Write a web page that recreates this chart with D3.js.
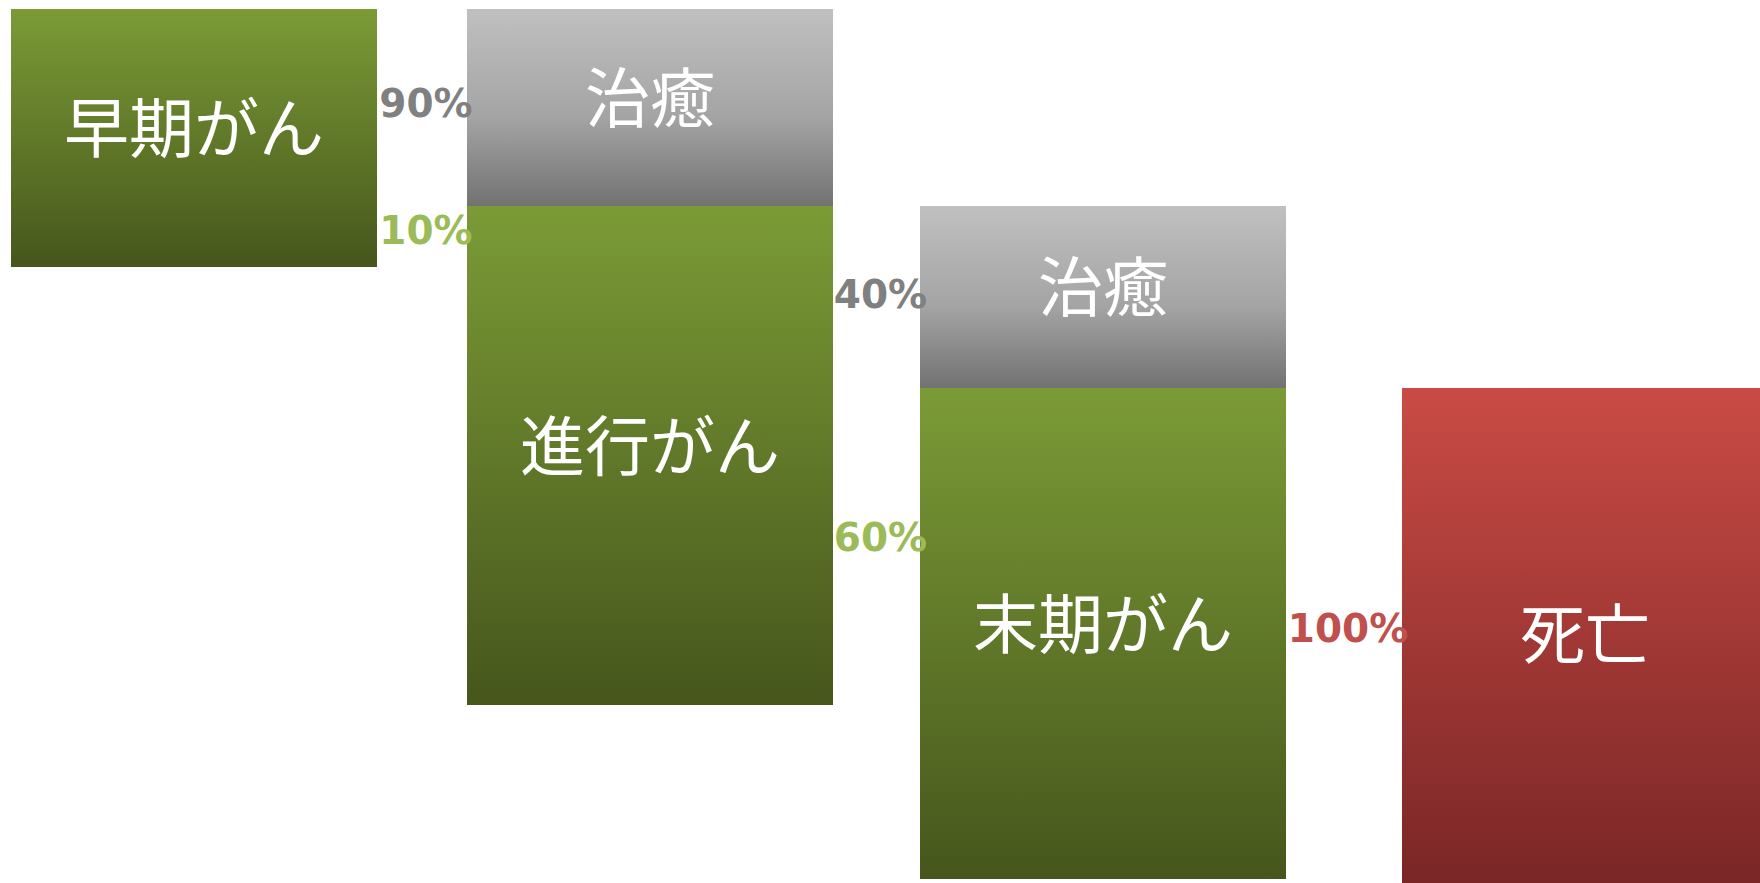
<!DOCTYPE html>
<html>
<head>
<meta charset="utf-8">
<script src="https://cdn.jsdelivr.net/npm/d3@7"></script>
<style>
  body { margin: 0; background: #fff; overflow: hidden; }
</style>
</head>
<body>
<div id="chart"></div>
<script>
// stages of the disease, left to right
const stages = ["早期がん", "進行がん", "末期がん", "死亡"]
const cureLabel = "治癒"
// share that is cured after each stage, and share that moves on to the next one
const cureRates = [90, 40, 0]
const progressRates = [10, 60, 100]

const width = 1760, height = 883
const boxWidth = 366

// layout of the columns
const x = d3.scaleOrdinal()
    .domain(stages)
    .range([11, 467, 920, 1402])

const y = d3.scaleOrdinal()
    .domain(["top", "split1", "bottom0", "split2", "bottom1", "bottom2", "bottom3"])
    .range([9, 206, 267, 388, 705, 879, 900])

const colTop = ["top", "top", "split1", "split2"]
const colSplit = [null, "split1", "split2", null]
const colBottom = ["bottom0", "bottom1", "bottom2", "bottom3"]

// where the percentages sit
const pctY = d3.scaleOrdinal()
    .domain(["cure1", "next1", "cure2", "next2", "cure3", "next3"])
    .range([103, 230, 294, 537, 0, 628])

// build the rectangles
let segments = []
stages.forEach((s, i) => {
    let top = colTop[i]
    if (colSplit[i]) {
        segments.push({ kind: "cure", label: cureLabel, x: x(s), y0: y(top), y1: y(colSplit[i]) })
        top = colSplit[i]
    }
    segments.push({
        kind: i == stages.length - 1 ? "death" : "cancer",
        label: s, x: x(s), y0: y(top), y1: y(colBottom[i])
    })
})

let labels = []
progressRates.forEach((p, i) => {
    let gapMid = (x(stages[i]) + boxWidth + x(stages[i + 1])) / 2 + 4
    if (cureRates[i] > 0) {
        labels.push({ text: cureRates[i] + "%", kind: "cure", x: gapMid, y: pctY("cure" + (i + 1)) })
    }
    labels.push({ text: p + "%", kind: i == progressRates.length - 1 ? "death" : "cancer", x: gapMid, y: pctY("next" + (i + 1)) })
})

let svg = d3.select("#chart").append("svg")
    .attr("width", width)
    .attr("height", height)

let defs = svg.append("defs")
let gradients = {
    cancer: [[0, "#7b9b36"], [1, "#46561c"]],
    cure: [[0, "#c0c0c0"], [0.55, "#a4a4a4"], [1, "#727272"]],
    death: [[0, "#ca4b45"], [1, "#772525"]]
}
Object.keys(gradients).forEach(k => {
    let g = defs.append("linearGradient")
        .attr("id", "grad-" + k)
        .attr("x1", 0).attr("y1", 0).attr("x2", 0).attr("y2", 1)
    g.selectAll("stop")
        .data(gradients[k])
        .enter().append("stop")
        .attr("offset", d => d[0])
        .attr("stop-color", d => d[1])
})

svg.selectAll("rect.box")
    .data(segments)
    .enter().append("rect")
    .attr("class", "box")
    .attr("x", d => d.x)
    .attr("y", d => d.y0)
    .attr("width", boxWidth)
    .attr("height", d => d.y1 - d.y0)
    .attr("fill", d => "url(#grad-" + d.kind + ")")

svg.selectAll("text.box-label")
    .data(segments)
    .enter().append("text")
    .attr("class", "box-label")
    .attr("x", d => d.x + boxWidth / 2)
    .attr("y", d => (d.y0 + d.y1) / 2 - 14)
    .attr("text-anchor", "middle")
    .attr("dominant-baseline", "central")
    .attr("fill", "white")
    .style("font-family", "'Noto Sans CJK JP', sans-serif")
    .style("font-weight", 400)
    .style("font-size", "65px")
    .text(d => d.label)

const pctColor = { cure: "#808080", cancer: "#9bbb59", death: "#c0504d" }

svg.selectAll("text.pct")
    .data(labels)
    .enter().append("text")
    .attr("class", "pct")
    .attr("x", d => d.x)
    .attr("y", d => d.y)
    .attr("text-anchor", "middle")
    .attr("dominant-baseline", "central")
    .attr("fill", d => pctColor[d.kind])
    .style("font-family", "'DejaVu Sans', Verdana, sans-serif")
    .style("font-weight", "bold")
    .style("font-size", "39px")
    .text(d => d.text)
</script>
</body>
</html>
